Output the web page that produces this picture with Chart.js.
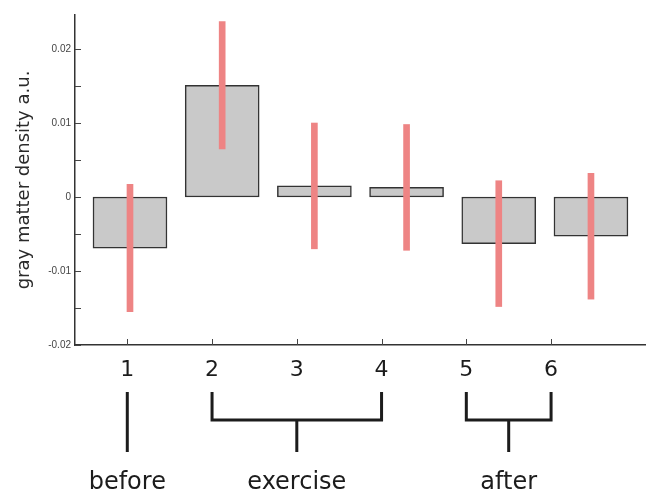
<!DOCTYPE html>
<html>
<head>
<meta charset="utf-8">
<script src="https://cdn.jsdelivr.net/npm/chart.js@4/dist/chart.umd.min.js"></script>
<style>
    html, body { margin: 0; padding: 0; background: #fff; }
    #wrap { width: 646px; height: 495px; }
</style>
</head>
<body>
<div id="wrap"><canvas id="chart" width="646" height="495"></canvas></div>
<script>
'use strict';

// sessions along the x axis
const sessions = [1, 2, 3, 4, 5, 6];
const sessionLabels = ['1', '2', '3', '4', '5', '6'];

// gray matter density (a.u.) and its error
const density = [-0.0069, 0.0151, 0.0015, 0.0013, -0.0063, -0.0053];
const densityErr = [0.0086, 0.0086, 0.0085, 0.0085, 0.0085, 0.0085];

// y axis ticks
const yTicks = [-0.02, -0.015, -0.01, -0.005, 0, 0.005, 0.01, 0.015, 0.02];
const yTickLabels = ['-0.02', '', '-0.01', '', '0', '', '0.01', '', '0.02'];

// groups drawn as brackets under the axis
const groupNames = ['before', 'exercise', 'after'];
const groupFrom = [1, 2, 5];
const groupTo = [1, 4, 6];

const INK = '#1c1c1c';

const barData = sessions.map((s, i) => ({ x: s, y: density[i] }));
const errData = sessions.map((s, i) => ({ x: s, y: [density[i] - densityErr[i], density[i] + densityErr[i]] }));

// small tick marks pointing into the plot
const innerTicks = {
    id: 'innerTicks',
    afterDraw(chart) {
        const ctx = chart.ctx,
            area = chart.chartArea,
            y = chart.scales.y,
            xt = chart.scales.xt;
        ctx.save();
        ctx.strokeStyle = '#444';
        ctx.lineWidth = 1;
        ctx.beginPath();
        y.ticks.forEach(t => {
            const py = Math.round(y.getPixelForValue(t.value)) + 0.5;
            ctx.moveTo(area.left, py);
            ctx.lineTo(area.left + 6, py);
        });
        xt.ticks.forEach(t => {
            const px = Math.round(xt.getPixelForValue(t.value)) + 0.5;
            ctx.moveTo(px, area.bottom);
            ctx.lineTo(px, area.bottom - 6);
        });
        ctx.stroke();
        ctx.restore();
    }
};

// group brackets and names
const groupBrackets = {
    id: 'groupBrackets',
    afterDraw(chart) {
        const ctx = chart.ctx,
            xt = chart.scales.xt,
            y0 = chart.chartArea.bottom;
        const top = y0 + 47, mid = y0 + 75, end = y0 + 107;

        ctx.save();
        ctx.strokeStyle = INK;
        ctx.lineWidth = 3;
        ctx.lineCap = 'butt';
        ctx.lineJoin = 'miter';
        ctx.fillStyle = INK;
        ctx.font = '24px "DejaVu Sans", Verdana, sans-serif';
        ctx.textAlign = 'center';
        ctx.textBaseline = 'alphabetic';

        groupNames.forEach((name, i) => {
            const x1 = xt.getPixelForValue(groupFrom[i]),
                x2 = xt.getPixelForValue(groupTo[i]),
                xm = (x1 + x2) / 2;
            ctx.beginPath();
            if (groupFrom[i] === groupTo[i]) {
                ctx.moveTo(x1, top);
                ctx.lineTo(x1, end);
            } else {
                ctx.moveTo(x1, top);
                ctx.lineTo(x1, mid);
                ctx.lineTo(x2, mid);
                ctx.lineTo(x2, top);
                ctx.moveTo(xm, mid);
                ctx.lineTo(xm, end);
            }
            ctx.stroke();
            ctx.fillText(name, xm, y0 + 144);
        });
        ctx.restore();
    }
};

new Chart(document.getElementById('chart'), {
    type: 'bar',
    data: {
        datasets: [
            {
                label: 'error',
                data: errData,
                xAxisID: 'x',
                backgroundColor: '#ee8484',
                borderWidth: 0,
                barThickness: 6,
                grouped: false,
                order: 0
            },
            {
                label: 'density',
                data: barData,
                xAxisID: 'x',
                backgroundColor: '#c9c9c9',
                borderColor: '#333',
                borderWidth: 1.5,
                borderSkipped: false,
                barThickness: 74,
                grouped: false,
                order: 1
            }
        ]
    },
    options: {
        responsive: false,
        animation: false,
        layout: { padding: { top: 15, right: 0, left: 0, bottom: 0 } },
        plugins: {
            legend: { display: false },
            tooltip: { enabled: false }
        },
        scales: {
            x: {
                type: 'linear',
                display: false,
                offset: false,
                min: 0.4035,
                max: 6.597
            },
            xt: {
                type: 'linear',
                position: 'bottom',
                offset: false,
                min: 0.383,
                max: 7.12,
                afterBuildTicks: s => { s.ticks = sessions.map(v => ({ value: v })); },
                afterFit: s => { s.height = 150; },
                grid: { display: false, drawTicks: false },
                border: { display: true, color: '#333', width: 1.5 },
                ticks: {
                    padding: 12,
                    color: INK,
                    font: { family: '"DejaVu Sans", Verdana, sans-serif', size: 22 },
                    callback: (v, i) => sessionLabels[i]
                }
            },
            y: {
                type: 'linear',
                min: -0.02,
                max: 0.0246,
                afterBuildTicks: s => { s.ticks = yTicks.map(v => ({ value: v })); },
                afterFit: s => { s.width = 75; },
                grid: { display: false, drawTicks: false },
                border: { display: true, color: '#333', width: 1.5 },
                ticks: {
                    padding: 4,
                    color: '#444',
                    font: { family: '"Liberation Sans", Arial, sans-serif', size: 10 },
                    callback: (v, i) => yTickLabels[i]
                },
                title: {
                    display: true,
                    text: 'gray matter density a.u.',
                    color: '#2a2a2a',
                    padding: { top: 14, bottom: 0 },
                    font: { family: '"DejaVu Sans", Verdana, sans-serif', size: 18 }
                }
            }
        }
    },
    plugins: [innerTicks, groupBrackets]
});
</script>
</body>
</html>
